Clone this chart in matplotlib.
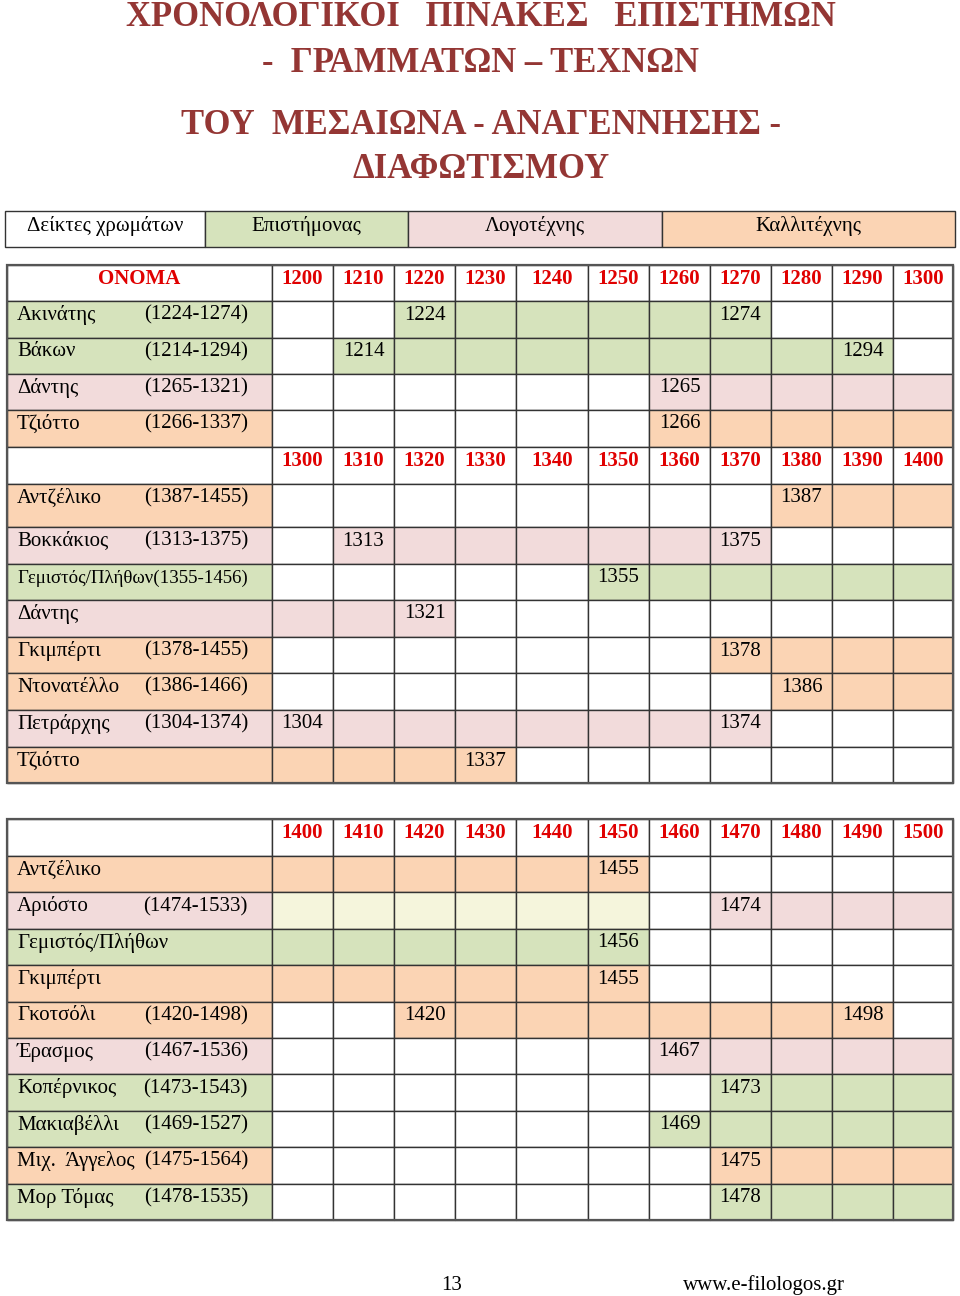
import matplotlib
matplotlib.use("Agg")
import matplotlib.pyplot as plt
from matplotlib.patches import Rectangle

plt.rcParams['font.family'] = ['Liberation Serif', 'DejaVu Serif']

# ---- data ----
title_lines = ["ΧΡΟΝΟΛΟΓΙΚΟΙ   ΠΙΝΑΚΕΣ   ΕΠΙΣΤΗΜΩΝ", "-  ΓΡΑΜΜΑΤΩΝ – ΤΕΧΝΩΝ",
               "ΤΟΥ  ΜΕΣΑΙΩΝΑ - ΑΝΑΓΕΝΝΗΣΗΣ -", "ΔΙΑΦΩΤΙΣΜΟΥ"]
legend_labels = ["Δείκτες χρωμάτων", "Επιστήμονας", "Λογοτέχνης", "Καλλιτέχνης"]
legend_cats = [None, "sci", "lit", "art"]

decades_a = [1200, 1210, 1220, 1230, 1240, 1250, 1260, 1270, 1280, 1290, 1300]
names_a = ["Ακινάτης", "Βάκων", "Δάντης", "Τζιόττο"]
life_a = ["(1224-1274)", "(1214-1294)", "(1265-1321)", "(1266-1337)"]
born_a = [1224, 1214, 1265, 1266]
died_a = [1274, 1294, 1321, 1337]
cat_a = ["sci", "sci", "lit", "art"]

decades_b = [1300, 1310, 1320, 1330, 1340, 1350, 1360, 1370, 1380, 1390, 1400]
names_b = ["Αντζέλικο", "Βοκκάκιος", "Γεμιστός/Πλήθων(1355-1456)", "Δάντης",
           "Γκιμπέρτι", "Ντονατέλλο", "Πετράρχης", "Τζιόττο"]
life_b = ["(1387-1455)", "(1313-1375)", "", "", "(1378-1455)", "(1386-1466)", "(1304-1374)", ""]
born_b = [1387, 1313, 1355, 1265, 1378, 1386, 1304, 1266]
died_b = [1455, 1375, 1456, 1321, 1455, 1466, 1374, 1337]
cat_b = ["art", "lit", "sci", "lit", "art", "art", "lit", "art"]

decades_c = [1400, 1410, 1420, 1430, 1440, 1450, 1460, 1470, 1480, 1490, 1500]
names_c = ["Αντζέλικο", "Αριόστο", "Γεμιστός/Πλήθων", "Γκιμπέρτι", "Γκοτσόλι",
           "Έρασμος", "Κοπέρνικος", "Μακιαβέλλι", "Μιχ.  Άγγελος", "Μορ Τόμας"]
life_c = ["", "(1474-1533)", "", "", "(1420-1498)", "(1467-1536)", "(1473-1543)",
          "(1469-1527)", "(1475-1564)", "(1478-1535)"]
born_c = [1387, 1474, 1355, 1378, 1420, 1467, 1473, 1469, 1475, 1478]
died_c = [1455, 1533, 1456, 1455, 1498, 1536, 1543, 1527, 1564, 1535]
cat_c = ["art", "lit", "sci", "art", "art", "lit", "sci", "sci", "art", "sci"]
# Αριόστο row: odd beige cells 1400-1450 in the original
extra_c = [(1, [1400, 1410, 1420, 1430, 1440, 1450], "beige")]

colors = {"sci": "#D6E3BC", "lit": "#F2DBDB", "art": "#FBD4B4", "beige": "#ECEBE3", None: "white"}
title_color = "#943634"
head_color = "#E00000"

# ---- layout (pixels) ----
col_edges = [272, 333, 394, 455, 516, 588, 649, 710, 771, 832, 893, 953]
name_x0 = 7
FS = 15
DY = 14  # text offset from row top
NAME_MAX_W = 232  # name cell text must fit between x=17 and x=249

fig = plt.figure(figsize=(9.6, 12.96), dpi=100)
ax = fig.add_axes([0, 0, 1, 1])
ax.set_xlim(0, 960)
ax.set_ylim(1296, 0)
ax.axis('off')
renderer = fig.canvas.get_renderer()


def cell(x0, x1, y0, y1, fc="white", lw=1.0):
    ax.add_patch(Rectangle((x0, y0), x1 - x0, y1 - y0, facecolor=fc,
                           edgecolor="#333333", linewidth=lw))


def header_row(y0, y1, decades, first=""):
    cell(name_x0, col_edges[0], y0, y1)
    if first:
        ax.text((name_x0 + col_edges[0]) / 2, y0 + DY, first, color=head_color,
                fontsize=FS, fontweight='bold', ha='center', va='center')
    for i, d in enumerate(decades):
        cell(col_edges[i], col_edges[i + 1], y0, y1)
        ax.text((col_edges[i] + col_edges[i + 1]) / 2, y0 + DY, str(d), color=head_color,
                fontsize=FS, fontweight='bold', ha='center', va='center')


def person_rows(y_edges, decades, names, life, born, died, cat, extra=()):
    extra_map = {}
    for r, decs, c in extra:
        for d in decs:
            extra_map[(r, d)] = c
    first, last = decades[0], decades[-1]
    for r, name in enumerate(names):
        y0, y1 = y_edges[r], y_edges[r + 1]
        fc = colors[cat[r]]
        cell(name_x0, col_edges[0], y0, y1, fc)
        t = ax.text(17, y0 + DY, name, fontsize=FS, ha='left', va='center')
        w = t.get_window_extent(renderer).width
        if w > NAME_MAX_W:  # squeeze long names like in the original
            t.set_fontsize(FS * NAME_MAX_W / w)
        if life[r]:
            ax.text(248, y0 + DY, life[r], fontsize=FS, ha='right', va='center')
        b_dec = born[r] // 10 * 10
        d_dec = died[r] // 10 * 10
        for i, d in enumerate(decades):
            c = fc if b_dec <= d <= d_dec else extra_map.get((r, d), "white")
            cell(col_edges[i], col_edges[i + 1], y0, y1, c)
            lab = ""
            if d == b_dec and first <= b_dec <= last:
                lab = str(born[r])
            if d == d_dec and first <= d_dec <= last:
                lab = str(died[r])
            if lab:
                ax.text((col_edges[i] + col_edges[i + 1]) / 2, y0 + DY, lab,
                        fontsize=FS, ha='center', va='center')


# title
for txt, y in zip(title_lines, [18, 63, 126, 169]):
    ax.text(481, y, txt, color=title_color, fontsize=24.9, fontweight='bold',
            ha='center', va='center')

# legend row
leg_edges = [5, 205, 408, 662, 955]
for i, lab in enumerate(legend_labels):
    cell(leg_edges[i], leg_edges[i + 1], 211, 247, colors[legend_cats[i]])
    ax.text((leg_edges[i] + leg_edges[i + 1]) / 2, 226, lab, fontsize=FS,
            ha='center', va='center')

# table 1 (1200-1400)
header_row(265, 301, decades_a, "ΟΝΟΜΑ")
person_rows([301, 338, 374, 410, 447], decades_a, names_a, life_a, born_a, died_a, cat_a)
header_row(447, 484, decades_b)
person_rows([484, 527, 564, 600, 637, 673, 710, 747, 783], decades_b,
            names_b, life_b, born_b, died_b, cat_b)
ax.add_patch(Rectangle((name_x0, 265), col_edges[-1] - name_x0, 783 - 265,
                       fill=False, edgecolor="#555555", linewidth=1.6))

# table 2 (1400-1500)
header_row(819, 856, decades_c)
rows_c = [856 + k * 36.4 for k in range(len(names_c) + 1)]
person_rows(rows_c, decades_c, names_c, life_c, born_c, died_c, cat_c, extra_c)
ax.add_patch(Rectangle((name_x0, 819), col_edges[-1] - name_x0, rows_c[-1] - 819,
                       fill=False, edgecolor="#555555", linewidth=1.6))

# footer
ax.text(452, 1285, "13", fontsize=FS, ha='center', va='center')
ax.text(764, 1285, "www.e-filologos.gr", fontsize=FS, ha='center', va='center')

fig.savefig("out.png", dpi=100)
